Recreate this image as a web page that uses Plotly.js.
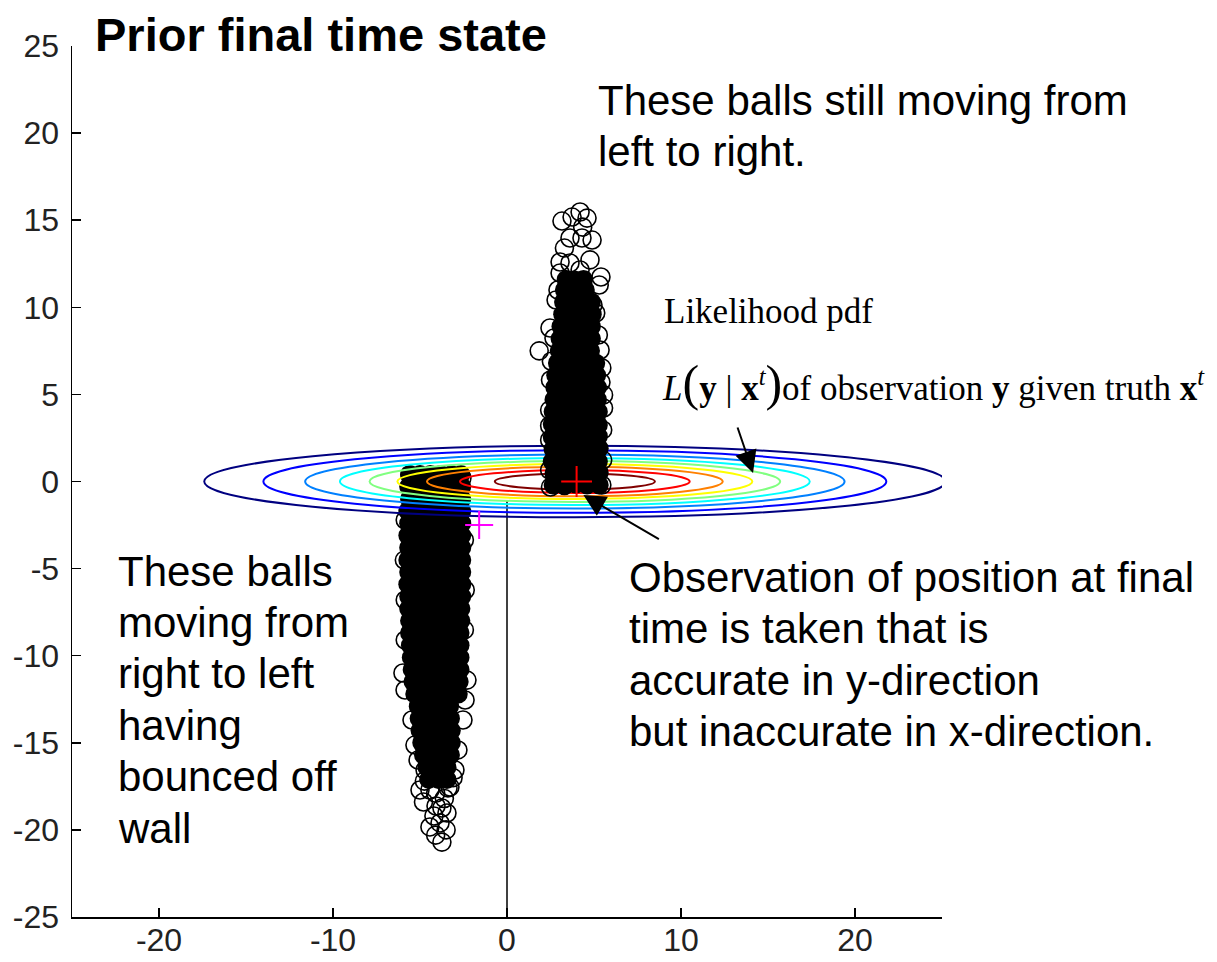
<!DOCTYPE html>
<html><head><meta charset="utf-8">
<script src="https://cdn.plot.ly/plotly-3.0.1.min.js"></script>
<style>html,body{margin:0;padding:0;background:#fff}#chart{width:1217px;height:962px}</style>
</head><body><div id="chart"></div>
<script>
// ---------- data ----------
// observation (red cross) and the magenta cross
const obsX = [4.0], obsY = [0.0];
const markX = [-1.6], markY = [-2.5];
// wall line
const wallX = [0, 0], wallY = [-25, -1.1];
// likelihood contour ellipses (centre, half extents, jet colours from low to high level)
const likelihoodCentre = [3.9, 0.0];
const contourLevels = [0.1, 0.2, 0.3, 0.4, 0.5, 0.6, 0.7, 0.8, 0.9];
const contourHalfWidth = [21.3, 17.9, 15.5, 13.5, 11.8, 10.2, 8.5, 6.6, 4.6];
const contourHalfHeight = [2.05, 1.8, 1.55, 1.35, 1.17, 1.0, 0.85, 0.66, 0.46];
const contourColors = ['#000080','#0000ff','#0080ff','#00ffff','#80ff80','#ffff00','#ff8000','#ff0000','#800000'];
// axis ticks
const xTicks = [-20, -10, 0, 10, 20];
const yTicks = [-25, -20, -15, -10, -5, 0, 5, 10, 15, 20, 25];

// balls still moving left to right (dense body)
const rightCore = [
 [2.65,-0.2],[3.3,-0.25],[3.95,-0.15],[4.6,-0.2],[5.3,-0.2],
 [2.7,0.45],[3.35,0.5],[4.0,0.5],[4.65,0.45],[5.3,0.5],
 [2.6,1.15],[3.25,1.2],[3.9,1.15],[4.55,1.2],[5.25,1.15],
 [2.65,1.85],[3.3,1.9],[3.95,1.85],[4.6,1.9],[5.3,1.9],
 [2.6,2.55],[3.25,2.6],[3.9,2.6],[4.55,2.55],[5.25,2.6],
 [2.6,3.3],[3.25,3.25],[3.9,3.3],[4.55,3.3],[5.25,3.25],
 [2.65,4.0],[3.3,4.0],[3.95,3.95],[4.6,4.0],[5.25,4.0],
 [2.7,4.7],[3.35,4.7],[4.0,4.65],[4.65,4.7],[5.2,4.7],
 [2.75,5.4],[3.4,5.4],[4.05,5.4],[4.65,5.35],[5.2,5.4],
 [2.8,6.1],[3.45,6.1],[4.05,6.1],[4.7,6.1],[5.15,6.1],
 [2.9,6.8],[3.5,6.8],[4.1,6.75],[4.7,6.8],[5.1,6.8],
 [3.0,7.5],[3.6,7.5],[4.2,7.5],[4.8,7.5],
 [3.05,8.2],[3.65,8.2],[4.25,8.2],[4.85,8.2],
 [3.1,8.9],[3.7,8.9],[4.3,8.9],[4.85,8.9],
 [3.2,9.6],[3.8,9.6],[4.4,9.6],[4.9,9.6],
 [3.25,10.3],[3.85,10.3],[4.45,10.3],[4.85,10.3],
 [3.3,11.0],[3.9,11.0],[4.5,11.0],
 [3.4,11.6],[3.95,11.55],[4.4,11.6]
];
// balls still moving left to right (outlying rings)
const rightEdge = [
 [4.2,15.47],[3.16,14.95],[3.74,15.18],[4.6,15.12],[4.35,14.6],
 [3.62,13.98],[4.31,13.98],[4.89,13.86],[3.3,13.4],
 [3.05,12.6],[3.05,11.97],[3.62,12.54],[4.77,12.72],[5.4,11.74],[5.3,11.28],[4.2,12.14],
 [4.94,10.13],[5.1,9.67],[1.85,7.5],[2.47,8.81],[2.7,8.24],[2.82,10.42],[2.93,10.99],
 [5.45,6.52],[5.55,4.97],[5.55,4.22],[5.5,2.96],[2.5,5.83],[2.45,4.1],[2.45,2.38],[2.45,0.66],
 [5.5,1.23],[5.45,-0.2],[2.5,-0.32],[5.25,8.41],[5.35,7.55],[2.55,6.9],[5.4,5.7],[2.45,3.2]
];
// balls moving right to left after bouncing off the wall (dense body)
const leftCore = [
 [-5.6,0.4],[-5.0,0.4],[-4.4,0.4],[-3.8,0.4],[-3.2,0.4],[-2.65,0.4],
 [-5.65,-0.3],[-5.05,-0.3],[-4.45,-0.3],[-3.85,-0.3],[-3.2,-0.3],[-2.6,-0.3],
 [-5.6,-1.0],[-5.0,-1.0],[-4.4,-1.0],[-3.75,-1.0],[-3.15,-1.0],[-2.6,-1.0],
 [-5.7,-1.7],[-5.1,-1.7],[-4.45,-1.7],[-3.8,-1.7],[-3.2,-1.7],[-2.6,-1.7],
 [-5.65,-2.4],[-5.05,-2.4],[-4.4,-2.4],[-3.8,-2.4],[-3.2,-2.4],[-2.6,-2.4],
 [-5.7,-3.1],[-5.05,-3.1],[-4.45,-3.1],[-3.85,-3.1],[-3.2,-3.1],[-2.6,-3.1],
 [-5.65,-3.8],[-5.0,-3.8],[-4.4,-3.8],[-3.8,-3.8],[-3.15,-3.8],[-2.6,-3.8],
 [-5.7,-4.5],[-5.1,-4.5],[-4.45,-4.5],[-3.8,-4.5],[-3.2,-4.5],[-2.6,-4.5],
 [-5.65,-5.2],[-5.05,-5.2],[-4.4,-5.2],[-3.75,-5.2],[-3.15,-5.2],[-2.6,-5.2],
 [-5.7,-5.9],[-5.05,-5.9],[-4.45,-5.9],[-3.8,-5.9],[-3.2,-5.9],[-2.6,-5.9],
 [-5.65,-6.6],[-5.0,-6.6],[-4.4,-6.6],[-3.8,-6.6],[-3.2,-6.6],[-2.6,-6.6],
 [-5.65,-7.3],[-5.05,-7.3],[-4.45,-7.3],[-3.85,-7.3],[-3.2,-7.3],[-2.65,-7.3],
 [-5.6,-8.0],[-5.0,-8.0],[-4.4,-8.0],[-3.8,-8.0],[-3.2,-8.0],[-2.65,-8.0],
 [-5.6,-8.7],[-5.0,-8.7],[-4.4,-8.7],[-3.8,-8.7],[-3.2,-8.7],[-2.7,-8.7],
 [-5.55,-9.4],[-4.95,-9.4],[-4.35,-9.4],[-3.75,-9.4],[-3.15,-9.4],[-2.7,-9.4],
 [-5.5,-10.1],[-4.9,-10.1],[-4.3,-10.1],[-3.75,-10.1],[-3.2,-10.1],[-2.7,-10.1],
 [-5.45,-10.8],[-4.85,-10.8],[-4.3,-10.8],[-3.75,-10.8],[-3.2,-10.8],[-2.7,-10.8],
 [-5.4,-11.5],[-4.8,-11.5],[-4.25,-11.5],[-3.7,-11.5],[-3.15,-11.5],[-2.75,-11.5],
 [-5.3,-12.2],[-4.75,-12.2],[-4.2,-12.2],[-3.65,-12.2],[-3.1,-12.2],[-2.8,-12.2],
 [-5.1,-12.9],[-4.5,-12.9],[-3.9,-12.9],[-3.3,-12.9],
 [-5.05,-13.6],[-4.45,-13.6],[-3.85,-13.6],[-3.25,-13.6],
 [-5.0,-14.3],[-4.4,-14.3],[-3.8,-14.3],[-3.2,-14.3],
 [-4.9,-15.0],[-4.3,-15.0],[-3.75,-15.0],[-3.2,-15.0],
 [-4.8,-15.7],[-4.25,-15.7],[-3.7,-15.7],[-3.25,-15.7],
 [-4.6,-16.4],[-4.0,-16.4],[-3.45,-16.4],
 [-4.5,-17.1],[-3.95,-17.1],[-3.45,-17.1]
];
// balls moving right to left (outlying rings)
const leftEdge = [
 [-4.43,-17.71],[-3.39,-17.59],[-3.74,-18.74],[-3.85,-19.6],[-4.43,-19.83],[-3.74,-20.7],
 [-3.45,-19.03],[-5.0,-17.71],[-3.28,-17.54],[-4.08,-18.63],
 [-4.1,-17.9],[-3.6,-18.2],[-4.2,-19.2],[-3.5,-20.0],[-4.1,-20.3],[-4.75,-17.2],[-3.1,-17.0],[-4.8,-18.4],
 [-5.98,-10.99],[-5.86,-11.97],[-2.3,-11.4],[-2.41,-12.54],[-2.53,-13.69],[-5.46,-13.69],
 [-5.29,-15.13],[-2.82,-15.41],[-4.71,-16.56],[-2.99,-16.56],[-5.11,-15.99],
 [-5.85,-2.21],[-5.9,-4.51],[-5.85,-6.8],[-2.45,-3.36],[-2.4,-6.23],[-2.45,-8.52],
 [-5.85,-9.1],[-5.57,0.37],[-2.59,0.2]
];

// ---------- layout helpers (pixel -> paper) ----------
const L = 72, T = 46, PW = 870, PH = 871;
const px = v => (v - L) / PW;
const py = v => (T + PH - v) / PH;

const ringMarker = {symbol: 'circle-open', size: 18, color: 'black', line: {width: 1.6, color: 'black'}};
const discMarker = {symbol: 'circle', size: 19, color: 'black', line: {width: 0}};
const xs = a => a.map(p => p[0]);
const ys = a => a.map(p => p[1]);

const traces = [
  {x: xs(leftCore), y: ys(leftCore), type: 'scatter', mode: 'markers', marker: discMarker, xaxis: 'x', yaxis: 'y', hoverinfo: 'skip'},
  {x: xs(leftEdge), y: ys(leftEdge), type: 'scatter', mode: 'markers', marker: ringMarker, xaxis: 'x', yaxis: 'y', hoverinfo: 'skip'},
  {x: wallX, y: wallY, type: 'scatter', mode: 'lines', line: {color: 'black', width: 1.5}, xaxis: 'x', yaxis: 'y'},
  {x: xs(rightCore), y: ys(rightCore), type: 'scatter', mode: 'markers', marker: discMarker, xaxis: 'x2', yaxis: 'y2', hoverinfo: 'skip'},
  {x: xs(rightEdge), y: ys(rightEdge), type: 'scatter', mode: 'markers', marker: ringMarker, xaxis: 'x2', yaxis: 'y2', hoverinfo: 'skip'},
  {x: obsX, y: obsY, type: 'scatter', mode: 'markers', marker: {symbol: 'cross-thin-open', size: 22, color: '#ff0000', line: {width: 2, color: '#ff0000'}}, xaxis: 'x2', yaxis: 'y2'},
  {x: markX, y: markY, type: 'scatter', mode: 'markers', marker: {symbol: 'cross-thin-open', size: 20, color: '#ff00ff', line: {width: 2, color: '#ff00ff'}}, xaxis: 'x2', yaxis: 'y2'}
];

const shapes = contourLevels.map((lev, i) => ({
  type: 'circle', xref: 'x2', yref: 'y2', layer: 'below',
  x0: likelihoodCentre[0] - contourHalfWidth[i], x1: likelihoodCentre[0] + contourHalfWidth[i],
  y0: likelihoodCentre[1] - contourHalfHeight[i], y1: likelihoodCentre[1] + contourHalfHeight[i],
  line: {color: contourColors[i], width: 2}, fillcolor: 'rgba(0,0,0,0)'
}));

const sans = 'Liberation Sans, Arial, sans-serif';
const serif = 'Liberation Serif, Times New Roman, serif';
const annotations = [];
function textLines(lines, left, firstCenter, gap) {
  lines.forEach((t, i) => annotations.push({
    xref: 'paper', yref: 'paper', x: px(left), y: py(firstCenter + i * gap),
    xanchor: 'left', yanchor: 'middle', showarrow: false, text: t,
    font: {family: sans, size: 42, color: 'black'}
  }));
}
textLines(['These balls still moving from', 'left to right.'], 596, 100, 52);
textLines(['These balls', 'moving from', 'right to left', 'having', 'bounced off', 'wall'], 116, 571, 51.4);
textLines(['Observation of position at final', 'time is taken that is', 'accurate in y-direction', 'but inaccurate in x-direction.'], 627, 577, 51.6);
annotations.push({xref: 'paper', yref: 'paper', x: px(662), y: py(311), xanchor: 'left', yanchor: 'middle', showarrow: false,
  text: 'Likelihood pdf', font: {family: serif, size: 35, color: 'black'}});
annotations.push({xref: 'paper', yref: 'paper', x: px(660), y: py(383), xanchor: 'left', yanchor: 'middle', showarrow: false,
  text: '<i>L</i><span style="font-size:50px">(</span><b>y</b> | <b>x</b><sup><i>t</i></sup><span style="font-size:50px">)</span>of observation <b>y</b> given truth <b>x</b><sup><i>t</i></sup>',
  font: {family: serif, size: 35, color: 'black'}});
// arrows
annotations.push({xref: 'x', yref: 'y', x: 14.14, y: 0.49, ax: -16, ay: -47, text: '', showarrow: true,
  arrowhead: 2, arrowsize: 2.2, arrowwidth: 2, arrowcolor: 'black'});
annotations.push({xref: 'x', yref: 'y', x: 4.39, y: -0.78, ax: 77, ay: 45, text: '', showarrow: true,
  arrowhead: 2, arrowsize: 2.2, arrowwidth: 2, arrowcolor: 'black'});

const tickFont = {family: sans, size: 32, color: '#222'};
const layout = {
  width: 1217, height: 962,
  margin: {l: L, r: 1217 - L - PW, t: T, b: 962 - T - PH, pad: 0},
  paper_bgcolor: 'white', plot_bgcolor: 'rgba(0,0,0,0)',
  showlegend: false,
  title: {text: '<b>Prior final time state</b>', font: {family: sans, size: 47, color: 'black'},
          xref: 'container', x: 95 / 1217, xanchor: 'left', yref: 'container', y: 1 - 35 / 962, yanchor: 'middle'},
  xaxis: {domain: [0, 1], anchor: 'y', range: [-25, 25], tickmode: 'array', tickvals: xTicks, ticktext: xTicks.map(String),
          ticks: 'inside', ticklen: 9, tickwidth: 1.5, tickcolor: 'black', showline: true, linecolor: 'black', linewidth: 1.5,
          showgrid: false, zeroline: false, tickfont: tickFont, ticklabelstandoff: -6, fixedrange: true},
  yaxis: {domain: [0, 1], anchor: 'x', range: [-25, 25], tickmode: 'array', tickvals: yTicks, ticktext: yTicks.map(String),
          ticks: 'inside', ticklen: 9, tickwidth: 1.5, tickcolor: 'black', showline: true, linecolor: 'black', linewidth: 1.5,
          showgrid: false, zeroline: false, tickfont: tickFont, ticklabelstandoff: 5, fixedrange: true},
  xaxis2: {domain: [0, 1], anchor: 'y2', range: [-25, 25], visible: false, fixedrange: true},
  yaxis2: {domain: [0, 1], anchor: 'x2', range: [-25, 25], visible: false, fixedrange: true},
  shapes: shapes,
  annotations: annotations
};
Plotly.newPlot('chart', traces, layout, {displayModeBar: false, staticPlot: true});
</script></body></html>
